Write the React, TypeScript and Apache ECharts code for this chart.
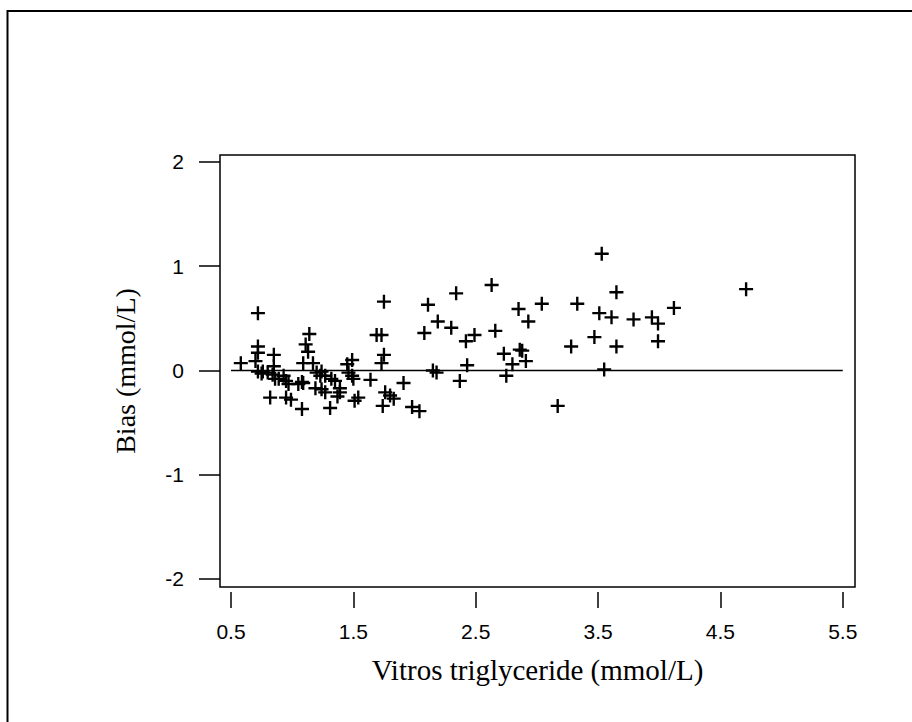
import React, { useEffect, useRef } from "react";
import * as echarts from "echarts";

const xValues = [
  0.58, 0.72, 0.72, 0.72, 0.70, 0.72, 0.76, 0.75, 0.80, 0.84, 0.85, 0.85, 0.82, 0.86, 0.89, 0.93, 0.95, 0.97, 0.95, 0.99,
  1.05, 1.08, 1.08, 1.09, 1.11, 1.13, 1.14, 1.17, 1.09, 1.20, 1.24, 1.23, 1.27, 1.19, 1.24, 1.27, 1.32, 1.35, 1.31, 1.39,
  1.39, 1.37, 1.45, 1.49, 1.46, 1.49, 1.50, 1.54, 1.51, 1.64, 1.69, 1.73, 1.75, 1.75, 1.73, 1.91, 1.76, 1.80, 1.83, 1.74,
  1.98, 2.04, 2.11, 2.19, 2.08, 2.30, 2.34, 2.63, 2.15, 2.18, 2.49, 2.42, 2.43, 2.37, 2.66, 2.73, 2.80, 2.75, 2.85, 2.93,
  2.86, 2.88, 2.91, 3.04, 3.33, 3.53, 3.65, 3.51, 3.61, 3.79, 3.94, 3.99, 4.12, 3.47, 3.28, 3.65, 3.99, 3.55, 3.17, 4.71,
];
const biasValues = [
  0.07, 0.55, 0.23, 0.17, 0.09, -0.01, -0.01, -0.03, -0.02, -0.04, 0.15, 0.04, -0.26, -0.08, -0.08, -0.05, -0.10, -0.13, -0.26, -0.28,
  -0.13, -0.11, -0.37, 0.07, 0.25, 0.18, 0.35, 0.07, -0.12, -0.02, -0.01, -0.05, -0.05, -0.17, -0.18, -0.21, -0.08, -0.10, -0.36, -0.17,
  -0.21, -0.25, 0.06, 0.10, -0.02, -0.05, -0.08, -0.26, -0.29, -0.09, 0.34, 0.34, 0.66, 0.15, 0.07, -0.12, -0.21, -0.24, -0.27, -0.34,
  -0.35, -0.39, 0.63, 0.47, 0.36, 0.41, 0.74, 0.82, 0.00, -0.02, 0.34, 0.28, 0.05, -0.10, 0.38, 0.16, 0.06, -0.05, 0.59, 0.47,
  0.20, 0.19, 0.09, 0.64, 0.64, 1.12, 0.75, 0.55, 0.51, 0.49, 0.51, 0.45, 0.60, 0.32, 0.23, 0.23, 0.28, 0.01, -0.34, 0.78,
];
const refLineX = [0.5, 5.5];
const refLineY = [0, 0];
const xTicks = [0.5, 1.5, 2.5, 3.5, 4.5, 5.5];
const yTicks = [-2, -1, 0, 1, 2];

const PLUS = "path://M5.4,0H7.6V5.4H13V7.6H7.6V13H5.4V7.6H0V5.4H5.4Z";

export default function App() {
  const ref = useRef<HTMLDivElement>(null);
  useEffect(() => {
    if (!ref.current) return;
    const chart = echarts.init(ref.current, null, { renderer: "svg" });
    chart.setOption({
      animation: false,
      backgroundColor: "#ffffff",
      graphic: [
        {
          type: "rect",
          shape: { x: 7.5, y: 11, width: 1000, height: 1000 },
          style: { fill: "none", stroke: "#000", lineWidth: 2 },
          silent: true,
        },
      ],
      grid: {
        left: 220,
        right: 57,
        top: 155,
        bottom: 135,
        show: true,
        borderColor: "#000",
        borderWidth: 1.5,
        backgroundColor: "transparent",
      },
      xAxis: {
        type: "value",
        min: 0.41,
        max: 5.6,
        offset: 5,
        name: "Vitros triglyceride (mmol/L)",
        nameLocation: "middle",
        nameGap: 63,
        nameTextStyle: { fontFamily: "Liberation Serif", fontSize: 29, color: "#000" },
        axisLine: { show: false, onZero: false },
        axisTick: { show: true, length: 16, customValues: xTicks, lineStyle: { color: "#000", width: 1.5 } },
        axisLabel: {
          customValues: xTicks,
          margin: 29,
          fontFamily: "Liberation Sans",
          fontSize: 21,
          color: "#000",
          formatter: (v: number) => v.toFixed(1),
        },
        splitLine: { show: false },
      },
      yAxis: {
        type: "value",
        min: -2.077,
        max: 2.067,
        name: "Bias (mmol/L)",
        nameLocation: "middle",
        nameGap: 81,
        nameTextStyle: { fontFamily: "Liberation Serif", fontSize: 28, color: "#000" },
        axisLine: { show: false, onZero: false },
        axisTick: { show: true, length: 21, customValues: yTicks, lineStyle: { color: "#000", width: 1.5 } },
        axisLabel: {
          customValues: yTicks,
          margin: 36,
          fontFamily: "Liberation Sans",
          fontSize: 21,
          color: "#000",
          formatter: (v: number) => String(v),
        },
        splitLine: { show: false },
      },
      series: [
        {
          type: "line",
          data: refLineX.map((x, i) => [x, refLineY[i]]),
          symbol: "none",
          lineStyle: { color: "#000", width: 1.5 },
          silent: true,
          z: 1,
        },
        {
          type: "scatter",
          data: xValues.map((x, i) => [x, biasValues[i]]),
          symbol: PLUS,
          symbolSize: 14,
          itemStyle: { color: "#000", opacity: 1 },
          z: 2,
        },
      ],
    });
    return () => chart.dispose();
  }, []);
  return (
    <div
      ref={ref}
      style={{ position: "fixed", left: 0, top: 0, width: 912, height: 722, background: "#fff" }}
    />
  );
}
